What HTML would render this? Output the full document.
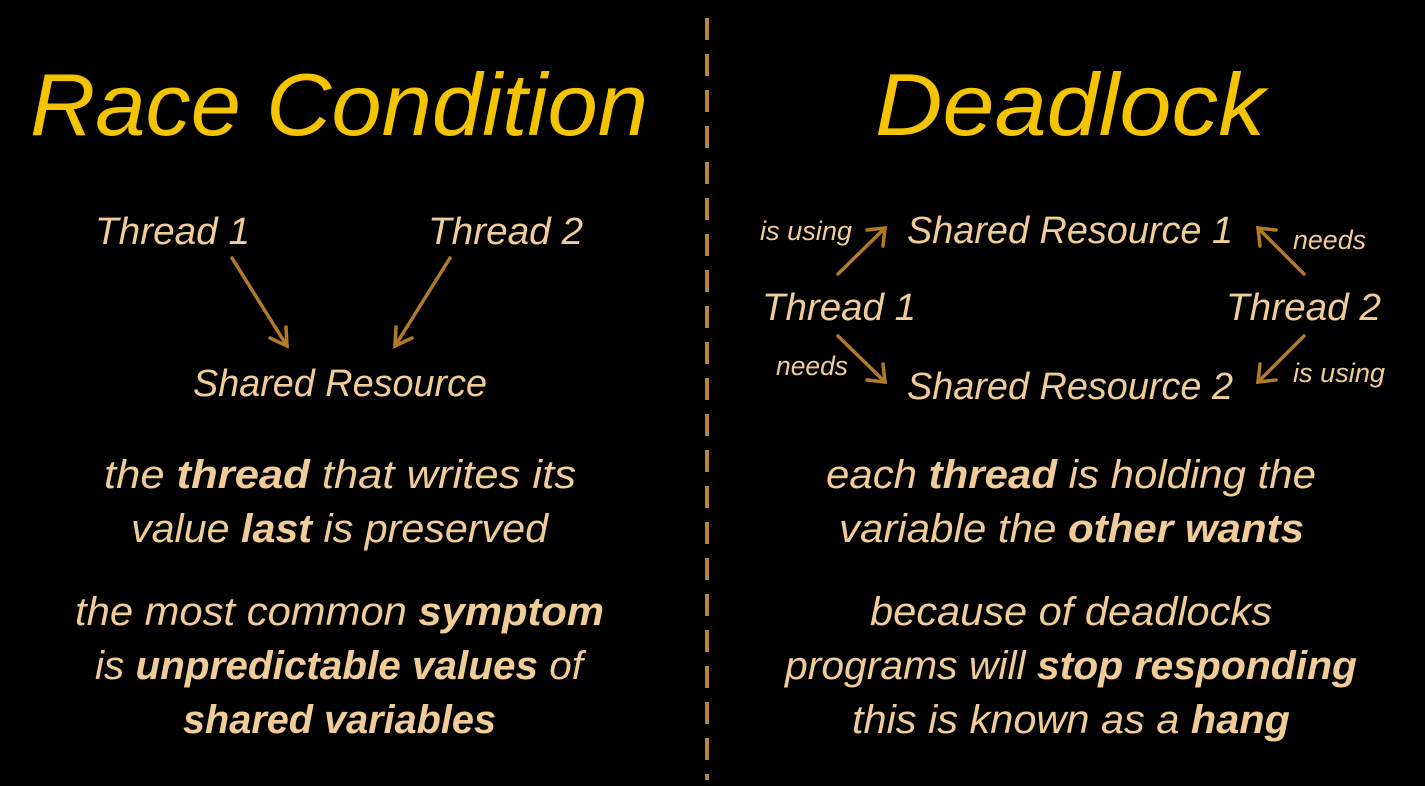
<!DOCTYPE html>
<html><head><style>html,body{margin:0;background:#000;}svg{display:block}</style></head>
<body>
<svg width="1425" height="786" viewBox="0 0 1425 786" xmlns="http://www.w3.org/2000/svg">
<rect width="1425" height="786" fill="#000"/>
<line x1="707" y1="18" x2="707" y2="780" stroke="#b5833a" stroke-width="4" stroke-dasharray="22,14"/>
<g font-family="Liberation Sans, sans-serif" font-style="italic" fill="#f5c400" font-size="88">
<text x="30" y="135" textLength="618" lengthAdjust="spacingAndGlyphs">Race Condition</text>
<text x="875" y="135" textLength="390" lengthAdjust="spacingAndGlyphs">Deadlock</text>
</g>
<g font-family="Liberation Sans, sans-serif" font-style="italic" fill="#f0cc98" lengthAdjust="spacingAndGlyphs">
<g font-size="38">
<text x="95" y="244" textLength="155" lengthAdjust="spacingAndGlyphs">Thread 1</text>
<text x="428" y="244" textLength="155" lengthAdjust="spacingAndGlyphs">Thread 2</text>
<text x="193" y="396" textLength="294" lengthAdjust="spacingAndGlyphs">Shared Resource</text>
<text x="907" y="243" textLength="326" lengthAdjust="spacingAndGlyphs">Shared Resource 1</text>
<text x="907" y="399" textLength="326" lengthAdjust="spacingAndGlyphs">Shared Resource 2</text>
<text x="762" y="320" textLength="154" lengthAdjust="spacingAndGlyphs">Thread 1</text>
<text x="1226" y="320" textLength="155" lengthAdjust="spacingAndGlyphs">Thread 2</text>
</g>
<g font-size="27">
<text x="760" y="240" textLength="92" lengthAdjust="spacingAndGlyphs">is using</text>
<text x="1293" y="249" textLength="73" lengthAdjust="spacingAndGlyphs">needs</text>
<text x="776" y="375" textLength="72" lengthAdjust="spacingAndGlyphs">needs</text>
<text x="1293" y="382" textLength="92" lengthAdjust="spacingAndGlyphs">is using</text>
</g>
<g font-size="40">
<text x="104" y="488" textLength="472" lengthAdjust="spacingAndGlyphs">the <tspan font-weight="bold">thread</tspan> that writes its</text>
<text x="131" y="542" textLength="417" lengthAdjust="spacingAndGlyphs">value <tspan font-weight="bold">last</tspan> is preserved</text>
<text x="75" y="625" textLength="529" lengthAdjust="spacingAndGlyphs">the most common <tspan font-weight="bold">symptom</tspan></text>
<text x="95" y="679" textLength="488" lengthAdjust="spacingAndGlyphs">is <tspan font-weight="bold">unpredictable values</tspan> of</text>
<text x="183" y="733" textLength="313" lengthAdjust="spacingAndGlyphs" font-weight="bold">shared variables</text>
<text x="826" y="488" textLength="490" lengthAdjust="spacingAndGlyphs">each <tspan font-weight="bold">thread</tspan> is holding the</text>
<text x="839" y="542" textLength="465" lengthAdjust="spacingAndGlyphs">variable the <tspan font-weight="bold">other wants</tspan></text>
<text x="870" y="625" textLength="402" lengthAdjust="spacingAndGlyphs">because of deadlocks</text>
<text x="785" y="679" textLength="572" lengthAdjust="spacingAndGlyphs">programs will <tspan font-weight="bold">stop responding</tspan></text>
<text x="852" y="733" textLength="438" lengthAdjust="spacingAndGlyphs">this is known as a <tspan font-weight="bold">hang</tspan></text>
</g>
</g>
<defs>
<marker id="a" viewBox="0 0 12 12" refX="10" refY="6" markerWidth="12" markerHeight="12" markerUnits="userSpaceOnUse" orient="auto" overflow="visible">
<path d="M-6,-6 L10,6 L-6,18" fill="none" stroke="#b07a2a" stroke-width="3.5" transform="translate(0,0) scale(0.9)"/>
</marker>
</defs>
<g stroke="#b07a2a" stroke-width="3.5" fill="none" stroke-linecap="round">
<line x1="232" y1="258" x2="287" y2="346"/>
<path d="M270,338 L287,346 L286,327"/>
<line x1="450" y1="258" x2="395" y2="346"/>
<path d="M412,338 L395,346 L396,327"/>
<line x1="838" y1="274" x2="885" y2="228"/>
<path d="M867,230 L885,228 L883,246"/>
<line x1="1304" y1="274" x2="1258" y2="228"/>
<path d="M1276,230 L1258,228 L1260,246"/>
<line x1="838" y1="336" x2="885" y2="382"/>
<path d="M867,380 L885,382 L883,364"/>
<line x1="1304" y1="336" x2="1258" y2="382"/>
<path d="M1276,380 L1258,382 L1260,364"/>
</g>
</svg>
</body></html>
